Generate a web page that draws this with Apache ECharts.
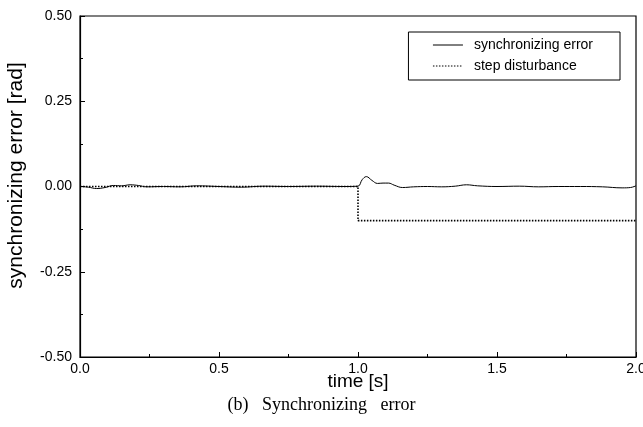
<!DOCTYPE html>
<html><head><meta charset="utf-8">
<script src="https://cdn.jsdelivr.net/npm/echarts@6/dist/echarts.min.js"></script>
<style>html,body{margin:0;padding:0;background:#fff}#c{width:643px;height:427px}</style>
</head><body><div id="c"></div>
<script>
const errT = [0,0.03,0.06,0.09,0.12,0.15,0.18,0.21,0.24,0.3,0.36,0.42,0.5,0.58,0.66,0.75,0.85,0.95,1.0,1.015,1.03,1.05,1.07,1.09,1.11,1.13,1.16,1.2,1.25,1.3,1.35,1.39,1.43,1.5,1.58,1.65,1.72,1.8,1.88,1.95,1.98,2.0];
const errV = [0,-0.002,-0.006,-0.003,0.003,0.002,0.005,0.003,-0.001,0,-0.001,0.002,0,-0.002,0.001,0,0.001,0,0.001,0.02,0.029,0.018,0.009,0.01,0.01,0.004,-0.003,-0.001,0,-0.001,0.001,0.005,0.002,0,0.001,-0.001,0,0,-0.001,-0.004,-0.003,0.002];
const stepT = [0,1.0,1.0,2.0];
const stepV = [0,0,-0.1,-0.1];
const xTicks = [0,0.5,1.0,1.5,2.0];
const yTicks = [-0.5,-0.25,0,0.25,0.5];
const names = ['synchronizing error','step disturbance'];

const chart = echarts.init(document.getElementById('c'));
const font = 'Liberation Sans, Arial, sans-serif';
chart.setOption({
  animation:false,
  grid:{left:80,top:16,right:7,bottom:70,outerBoundsMode:'none',containLabel:false,show:true,borderColor:'#000',borderWidth:1.2,backgroundColor:'transparent'},
  legend:{
    show:true,right:23,top:32,orient:'vertical',
    borderColor:'#000',borderWidth:1,padding:[6,27,7,24],itemGap:7,
    itemWidth:30,itemHeight:14,
    itemStyle:{opacity:0},
    lineStyle:{width:1},
    textStyle:{fontFamily:font,fontSize:14,color:'#000',padding:[0,0,0,6]},
    data:names
  },
  xAxis:{type:'value',min:xTicks[0],max:xTicks[xTicks.length-1],interval:0.5,
    name:'time [s]',nameLocation:'middle',nameGap:15,nameMoveOverlap:false,
    nameTextStyle:{fontFamily:font,fontSize:19,color:'#000',verticalAlign:'top'},
    axisLine:{onZero:false,lineStyle:{color:'#000',width:1.2}},
    axisTick:{inside:true,length:5,lineStyle:{color:'#000'}},
    minorTick:{show:true,splitNumber:2,length:3,lineStyle:{color:'#000'}},
    axisLabel:{fontFamily:font,fontSize:14,color:'#000',margin:5,formatter:v=>v.toFixed(1)},
    splitLine:{show:false}},
  yAxis:{type:'value',min:yTicks[0],max:yTicks[yTicks.length-1],interval:0.25,
    name:'synchronizing error [rad]',nameLocation:'middle',nameGap:53,
    nameTextStyle:{fontFamily:font,fontSize:21,color:'#000',padding:[0,0,0,22]},
    axisLine:{show:true,onZero:false,lineStyle:{color:'#000',width:1.2}},
    axisTick:{show:true,inside:true,length:5,lineStyle:{color:'#000'}},
    minorTick:{show:true,splitNumber:2,length:3,lineStyle:{color:'#000'}},
    axisLabel:{fontFamily:font,fontSize:14,color:'#000',margin:8,formatter:v=>v.toFixed(2)},
    splitLine:{show:false}},
  series:[
    {name:names[0],type:'line',symbol:'none',smooth:0.4,data:errT.map((t,i)=>[t,errV[i]]),
      lineStyle:{color:'#000',width:1},itemStyle:{color:'#000'}},
    {name:names[1],type:'line',symbol:'none',data:stepT.map((t,i)=>[t,stepV[i]]),
      lineStyle:{color:'#000',width:1.6,type:[1.5,1.5]},itemStyle:{color:'#000'}}
  ],
  graphic:[{type:'text',left:'center',top:396,style:{text:'(b)   Synchronizing   error',font:'18px "Liberation Serif", serif',fill:'#000'}}]
});
</script></body></html>
